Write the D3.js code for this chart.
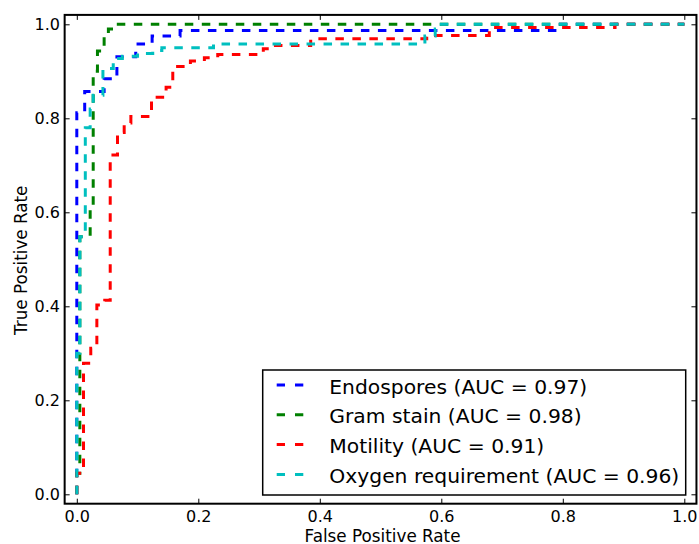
<!DOCTYPE html>
<html lang="en">
<head>
    <meta charset="UTF-8">
    <title>ROC curves</title>
    <script src="https://d3js.org/d3.v7.min.js"></script>
    <style>
        body { margin: 0; background: #fff; }
        text { font-family: "DejaVu Sans", sans-serif; fill: #000; }
        .tick text { font-size: 16px; }
        .label { font-size: 16.8px; }
        .legend text { font-size: 20.3px; }
    </style>
</head>
<body>
    <svg width="699" height="544"></svg>
    <script>
        // ROC 曲线的拐点 [FPR, TPR]
        var endospores = [
            [0, 0], [0, 0.812], [0.013, 0.812], [0.013, 0.857], [0.045, 0.857], [0.045, 0.884],
            [0.066, 0.884], [0.066, 0.931], [0.097, 0.931], [0.097, 0.958], [0.124, 0.958],
            [0.124, 0.975], [0.17, 0.975], [0.17, 0.987], [0.79, 0.987], [0.79, 1], [1, 1]
        ];
        var gramStain = [
            [0, 0], [0, 0.045], [0.005, 0.045], [0.005, 0.548], [0.022, 0.548], [0.022, 0.61],
            [0.027, 0.61], [0.027, 0.9], [0.034, 0.9], [0.034, 0.943], [0.045, 0.943],
            [0.045, 0.98], [0.052, 0.98], [0.052, 0.99], [0.06, 0.99], [0.06, 1], [1, 1]
        ];
        var motility = [
            [0, 0], [0, 0.045], [0.011, 0.045], [0.011, 0.279], [0.023, 0.279], [0.023, 0.311],
            [0.033, 0.311], [0.033, 0.403], [0.046, 0.403], [0.046, 0.413], [0.055, 0.413],
            [0.055, 0.722], [0.067, 0.722], [0.067, 0.77], [0.078, 0.77], [0.078, 0.79],
            [0.089, 0.79], [0.089, 0.804], [0.123, 0.804], [0.123, 0.845], [0.147, 0.845],
            [0.147, 0.866], [0.158, 0.866], [0.158, 0.91], [0.187, 0.91], [0.187, 0.922],
            [0.21, 0.922], [0.21, 0.929], [0.232, 0.929], [0.232, 0.936], [0.307, 0.936],
            [0.307, 0.948], [0.32, 0.948], [0.32, 0.955], [0.385, 0.955], [0.385, 0.969],
            [0.576, 0.969], [0.576, 0.976], [0.679, 0.976], [0.679, 0.993], [0.886, 0.993],
            [0.886, 1], [1, 1]
        ];
        var oxygen = [
            [0, 0], [0, 0.3], [0.005, 0.3], [0.005, 0.548], [0.014, 0.548], [0.014, 0.78],
            [0.022, 0.78], [0.022, 0.82], [0.027, 0.82], [0.027, 0.849], [0.043, 0.849],
            [0.043, 0.906], [0.06, 0.906], [0.06, 0.927], [0.075, 0.927], [0.075, 0.932],
            [0.1, 0.932], [0.1, 0.938], [0.125, 0.938], [0.125, 0.944], [0.14, 0.944],
            [0.14, 0.95], [0.225, 0.95], [0.225, 0.958], [0.573, 0.958], [0.573, 0.975],
            [0.59, 0.975], [0.59, 0.99], [0.6, 0.99], [0.6, 1], [1, 1]
        ];

        var seriesNames = ["Endospores (AUC = 0.97)", "Gram stain (AUC = 0.98)",
                           "Motility (AUC = 0.91)", "Oxygen requirement (AUC = 0.96)"];
        var seriesColors = ["#0000ff", "#008000", "#ff0000", "#00bfbf"];
        var seriesData = [endospores, gramStain, motility, oxygen];

        var xTicks = [0, 0.2, 0.4, 0.6, 0.8, 1.0];
        var yTicks = [0, 0.2, 0.4, 0.6, 0.8, 1.0];

        var svg = d3.select("svg");
        var plotLeft = 64.65, plotRight = 696.45, plotTop = 14.9, plotBottom = 503.7;

        var x = d3.scaleLinear().domain([-0.02, 1.02]).range([plotLeft, plotRight]);
        var y = d3.scaleLinear().domain([-0.02, 1.02]).range([plotBottom, plotTop]);

        // 四周的刻度（朝内）
        function styleAxis(g) {
            g.select(".domain").remove();
            g.selectAll(".tick line").attr("stroke", "#000").attr("stroke-width", 1);
        }
        svg.append("g")
            .attr("transform", "translate(0," + plotBottom + ")")
            .call(d3.axisBottom(x).tickValues(xTicks).tickFormat(d3.format(".1f"))
                .tickSizeInner(-5).tickSizeOuter(0).tickPadding(7))
            .call(styleAxis);
        svg.append("g")
            .attr("transform", "translate(0," + plotTop + ")")
            .call(d3.axisTop(x).tickValues(xTicks).tickFormat("")
                .tickSizeInner(-5).tickSizeOuter(0))
            .call(styleAxis);
        svg.append("g")
            .attr("transform", "translate(" + plotLeft + ",0)")
            .call(d3.axisLeft(y).tickValues(yTicks).tickFormat(d3.format(".1f"))
                .tickSizeInner(-5).tickSizeOuter(0).tickPadding(4.6))
            .call(styleAxis);
        svg.append("g")
            .attr("transform", "translate(" + plotRight + ",0)")
            .call(d3.axisRight(y).tickValues(yTicks).tickFormat("")
                .tickSizeInner(-5).tickSizeOuter(0))
            .call(styleAxis);
        svg.selectAll("g").attr("font-family", null).attr("font-size", null);

        // 曲线
        var line = d3.line()
            .x(function(d) { return x(d[0]); })
            .y(function(d) { return y(d[1]); });

        svg.append("defs").append("clipPath").attr("id", "clip")
            .append("rect")
            .attr("x", plotLeft).attr("y", plotTop)
            .attr("width", plotRight - plotLeft).attr("height", plotBottom - plotTop);

        svg.append("g")
            .attr("clip-path", "url(#clip)")
            .selectAll("path")
            .data(seriesData)
            .enter()
            .append("path")
            .attr("d", line)
            .attr("fill", "none")
            .attr("stroke", function(d, i) { return seriesColors[i]; })
            .attr("stroke-width", 3)
            .attr("stroke-dasharray", "8.5,8.5");

        // 边框
        svg.append("rect")
            .attr("x", plotLeft).attr("y", plotTop)
            .attr("width", plotRight - plotLeft).attr("height", plotBottom - plotTop)
            .attr("fill", "none")
            .attr("stroke", "#000")
            .attr("stroke-width", 2);

        // 轴标题
        svg.append("text")
            .attr("class", "label")
            .attr("x", (plotLeft + plotRight) / 2 + 2)
            .attr("y", 541.5)
            .attr("text-anchor", "middle")
            .text("False Positive Rate");
        svg.append("text")
            .attr("class", "label")
            .attr("transform", "translate(26.5," + ((plotTop + plotBottom) / 2 + 1) + ") rotate(-90)")
            .attr("text-anchor", "middle")
            .text("True Positive Rate");

        // 图例
        var legend = svg.append("g").attr("class", "legend");
        legend.append("rect")
            .attr("x", 262.7).attr("y", 370)
            .attr("width", 423).attr("height", 125)
            .attr("fill", "#fff")
            .attr("stroke", "#000")
            .attr("stroke-width", 1.5);

        var items = legend.selectAll(".item")
            .data(seriesNames)
            .enter()
            .append("g")
            .attr("class", "item")
            .attr("transform", function(d, i) { return "translate(0," + (385 + i * 29.8) + ")"; });

        items.append("line")
            .attr("x1", 276.7).attr("x2", 304)
            .attr("y1", 0).attr("y2", 0)
            .attr("stroke", function(d, i) { return seriesColors[i]; })
            .attr("stroke-width", 3)
            .attr("stroke-dasharray", "8.3,10");

        items.append("text")
            .attr("x", 329.3)
            .attr("y", 8.5)
            .text(function(d) { return d; });
    </script>
</body>
</html>
